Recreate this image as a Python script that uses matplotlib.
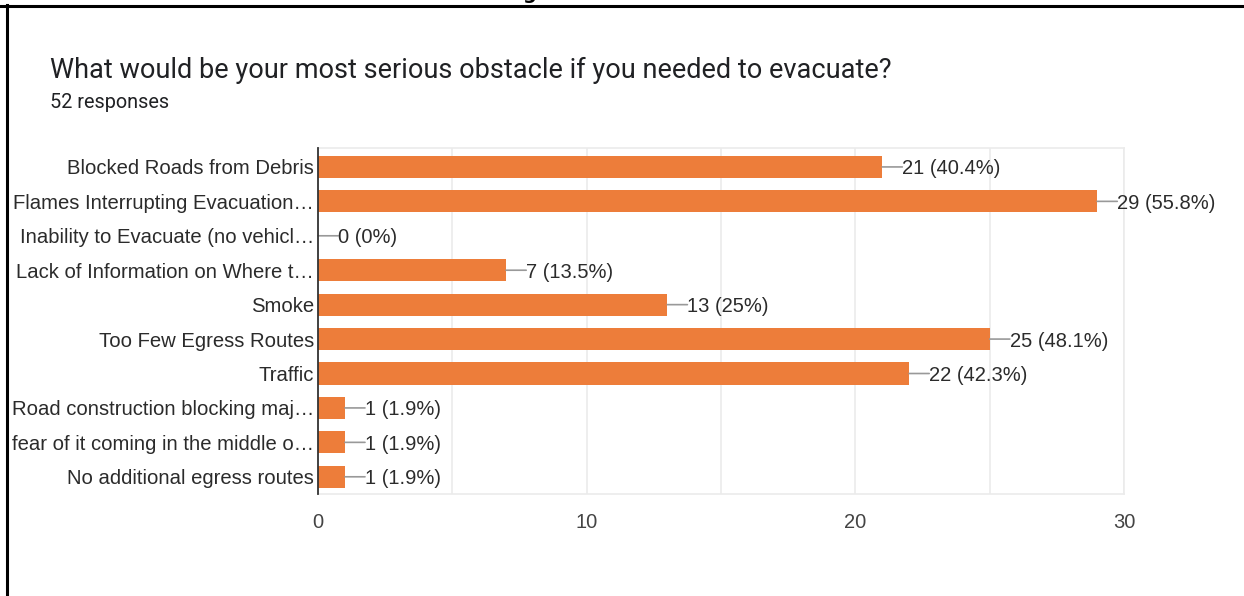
import matplotlib.pyplot as plt
from matplotlib.lines import Line2D

# Survey answers (top to bottom) and counts
categories = [
    "Blocked Roads from Debris",
    "Flames Interrupting Evacuation…",
    "Inability to Evacuate (no vehicl…",
    "Lack of Information on Where t…",
    "Smoke",
    "Too Few Egress Routes",
    "Traffic",
    "Road construction blocking maj…",
    "fear of it coming in the middle o…",
    "No additional egress routes",
]
counts = [21, 29, 0, 7, 13, 25, 22, 1, 1, 1]
percent_labels = ["40.4%", "55.8%", "0%", "13.5%", "25%", "48.1%", "42.3%", "1.9%", "1.9%", "1.9%"]
x_ticks = [0, 10, 20, 30]

title = "What would be your most serious obstacle if you needed to evacuate?"
subtitle = "52 responses"

bar_color = "#ED7D3A"
text_color = "#2b2b2b"
grid_color = "#EBEBEB"

fig = plt.figure(figsize=(12.44, 5.96), dpi=100)
ax = fig.add_axes([318 / 1244, 1 - 494 / 596, (1124 - 318) / 1244, (494 - 148) / 596])

ypos = list(range(len(categories)))
ax.barh(ypos, counts, height=0.64, color=bar_color, zorder=3)

# value labels with a short leader line
for y, c, p in zip(ypos, counts, percent_labels):
    ax.annotate("", xy=(c, y), xytext=(14.5, 0), textcoords="offset points",
                arrowprops=dict(arrowstyle="-", color="#999999", lw=1.2,
                                shrinkA=0, shrinkB=0))
    ax.annotate(f"{c} ({p})", xy=(c, y), xytext=(14.5, 0), textcoords="offset points",
                va="center_baseline", ha="left", fontsize=14.5, color=text_color,
                family="Liberation Sans")

ax.set_xlim(0, 30)
ax.set_ylim(9.5, -0.55)
ax.set_yticks(ypos)
ax.set_yticklabels(categories, fontsize=14.6, color=text_color, family="Liberation Sans")
ax.set_xticks(x_ticks)
ax.set_xticklabels([str(t) for t in x_ticks], fontsize=14.5, color="#444444", family="Liberation Sans")
ax.set_xticks([5, 15, 25], minor=True)
ax.tick_params(axis="both", which="both", length=0)
ax.tick_params(axis="y", pad=3)
ax.tick_params(axis="x", which="both", pad=14)
ax.grid(axis="x", which="both", color=grid_color, lw=1.2, zorder=0)

for side in ["top", "right", "bottom"]:
    ax.spines[side].set_color(grid_color)
    ax.spines[side].set_linewidth(1.2)
ax.spines["left"].set_color("#333333")
ax.spines["left"].set_linewidth(1.3)
ax.spines["left"].set_zorder(4)

fig.text(50 / 1244, 1 - 70 / 596, title, fontsize=19.5, color="#202124",
         family="Roboto", va="center", ha="left")
fig.text(50 / 1244, 1 - 103 / 596, subtitle, fontsize=14.3, color="#202124",
         family="Roboto", va="center", ha="left")

# screenshot frame
fig.add_artist(Line2D([0, 1], [1 - 6 / 596, 1 - 6 / 596], color="black", lw=2.2))
fig.add_artist(Line2D([7 / 1244, 7 / 1244], [0, 1 - 5 / 596], color="black", lw=2.2))
fig.text(529 / 1244, 1.0 + 1 / 596, "g", fontsize=14, fontweight="bold", va="baseline", ha="center")

fig.savefig("out.png", dpi=100, facecolor="white")
